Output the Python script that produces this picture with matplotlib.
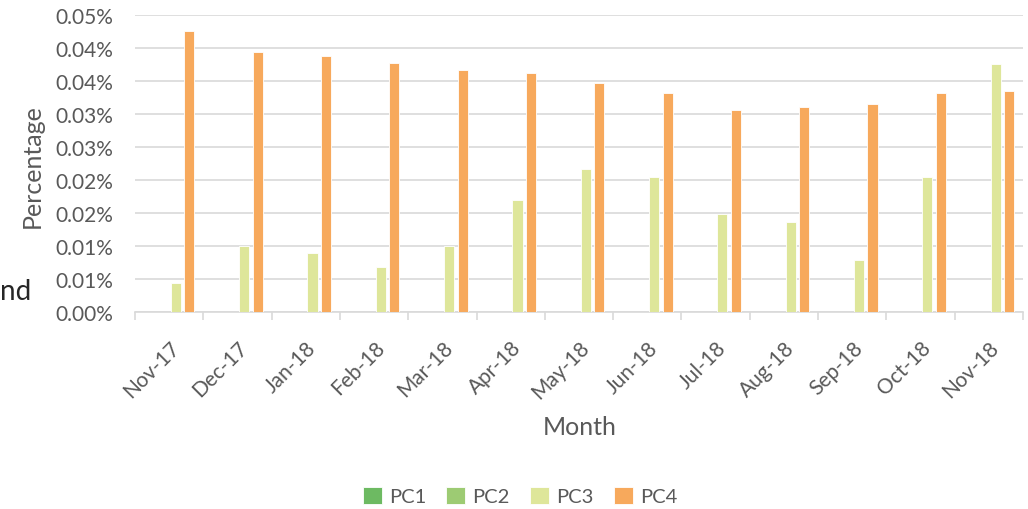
import matplotlib
matplotlib.use("Agg")
import matplotlib.pyplot as plt
import numpy as np

months = ["Nov-17", "Dec-17", "Jan-18", "Feb-18", "Mar-18", "Apr-18", "May-18",
          "Jun-18", "Jul-18", "Aug-18", "Sep-18", "Oct-18", "Nov-18"]
series_names = ["PC1", "PC2", "PC3", "PC4"]
pc1 = [0, 0, 0, 0, 0, 0, 0, 0, 0, 0, 0, 0, 0]
pc2 = [0, 0, 0, 0, 0, 0, 0, 0, 0, 0, 0, 0, 0]
pc3 = [0.0044, 0.0101, 0.0090, 0.0068, 0.0101, 0.0170, 0.0216, 0.0204,
       0.0148, 0.0136, 0.0079, 0.0204, 0.0375]
pc4 = [0.0425, 0.0394, 0.0387, 0.0377, 0.0366, 0.0362, 0.0347, 0.0332,
       0.0306, 0.0310, 0.0315, 0.0331, 0.0334]
ytick_values = [0, 0.005, 0.010, 0.015, 0.020, 0.025, 0.030, 0.035, 0.040, 0.045]
ytick_labels = ["0.00%", "0.01%", "0.01%", "0.02%", "0.02%", "0.03%", "0.03%",
                "0.04%", "0.04%", "0.05%"]
colors = ["#6DBA62", "#9DCB73", "#DEE69A", "#F7A95C"]

plt.rcParams['font.family'] = ['Lato', 'DejaVu Sans']
grey = "#595959"
grid_c = "#D9D9D9"

fig = plt.figure(figsize=(10.28, 5.10), dpi=100)
ax = fig.add_axes([135/1028, 1-313.3/510, (1023-135)/1028, (313.3-15.7)/510])

x = np.arange(len(months))
slot = 0.198
width = 0.148
all_series = [pc1, pc2, pc3, pc4]
for i, (vals, name, c) in enumerate(zip(all_series, series_names, colors)):
    ax.bar(x + (i - 1.5) * slot, vals, width=width, color=c, label=name,
           edgecolor="white", linewidth=0.6, zorder=3)

ax.set_xlim(-0.5, len(months) - 0.5)
ax.set_ylim(0, 0.045)
ax.set_yticks(ytick_values)
ax.set_yticklabels(ytick_labels)
ax.yaxis.grid(True, color=grid_c, linewidth=1.2, zorder=0)
ax.tick_params(axis='y', length=0, pad=16, labelsize=15, labelcolor=grey)

# category boundary ticks
ax.set_xticks(np.arange(-0.5, len(months), 1.0))
ax.set_xticklabels([])
ax.tick_params(axis='x', which='major', length=6, width=1.2, color=grid_c, direction='out')
ax.set_xticks(x, minor=True)
ax.set_xticklabels(months, minor=True, rotation=45, ha='right', va='top',
                   rotation_mode='anchor', fontsize=15, color=grey)
ax.tick_params(axis='x', which='minor', length=0, pad=18)

for s in ["top", "right", "left"]:
    ax.spines[s].set_visible(False)
ax.spines["bottom"].set_color(grid_c)
ax.spines["bottom"].set_linewidth(1.2)

fig.text(32/1028, 1-166/510, "Percentage", rotation=90, ha='center', va='center',
         fontsize=18, color=grey)
fig.text(580/1028, 1-428/510, "Month", ha='center', va='center', fontsize=18, color=grey)
fig.text(0, 1-292/510, "nd", ha='left', va='center', fontsize=20, color="#262626")

fig.legend(loc='center', bbox_to_anchor=(520/1028, 1-497/510), ncol=4, frameon=False,
           handlelength=0.95, handleheight=0.95, handletextpad=0.35, columnspacing=1.0,
           fontsize=14.5, labelcolor=grey)

fig.savefig("out.png", dpi=100)
